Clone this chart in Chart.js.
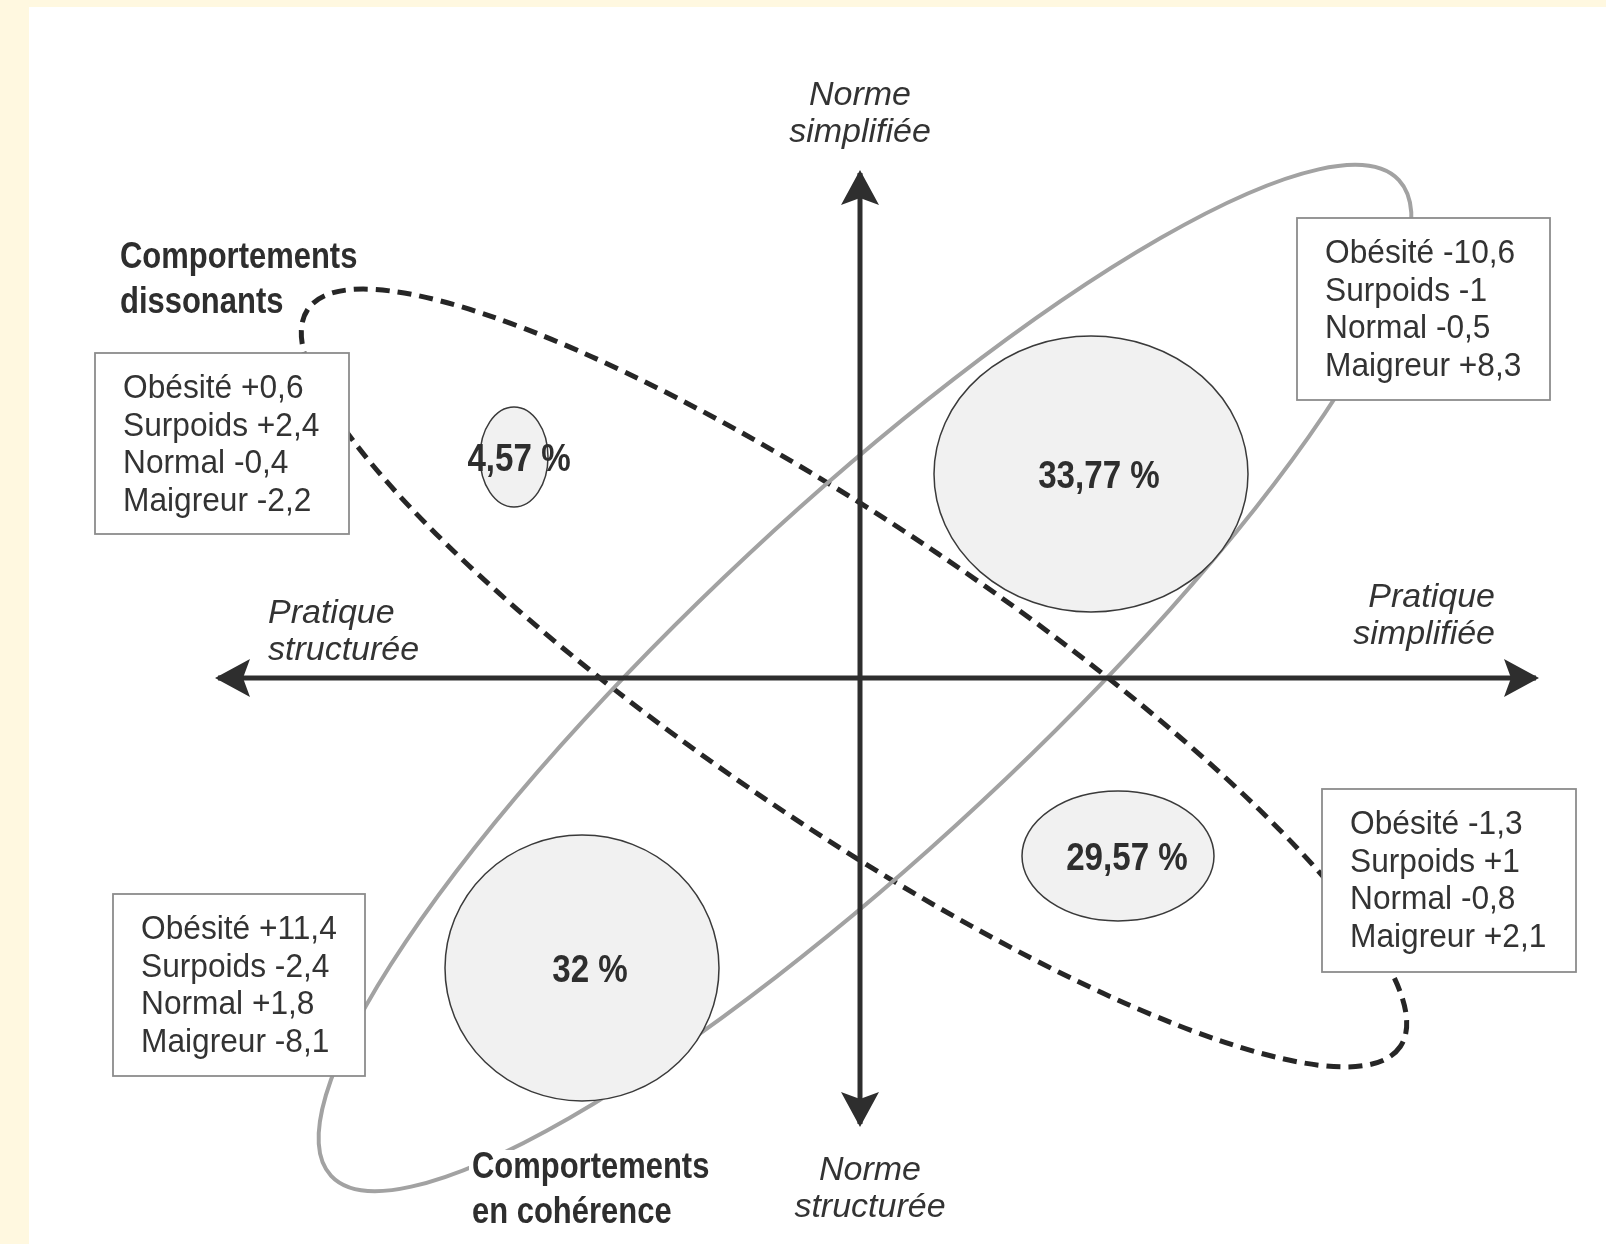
<!DOCTYPE html>
<html lang="fr">
<head>
<meta charset="utf-8">
<title>Norme et pratique alimentaires</title>
<script src="https://cdn.jsdelivr.net/npm/chart.js@4"></script>
<style>
  html, body { margin: 0; padding: 0; background: #fff8e0; }
  body { width: 1606px; height: 1244px; overflow: hidden; position: relative; }
  #cadre { position: absolute; left: 29px; top: 7px; width: 1577px; height: 1237px; background: #fff; }
  canvas { display: block; }
</style>
</head>
<body>
<div id="cadre"><canvas id="schema" width="1577" height="1237"></canvas></div>
<script>
// DONNEES DU SCHEMA
const categoriesIMC = ['Obésité', 'Surpoids', 'Normal', 'Maigreur'];
// ordre des quadrants : haut droite, haut gauche, bas droite, bas gauche
const partsPopulation = [33.77, 4.57, 29.57, 32];
const ecartsHautDroite = [-10.6, -1, -0.5, 8.3];
const ecartsHautGauche = [0.6, 2.4, -0.4, -2.2];
const ecartsBasDroite = [-1.3, 1, -0.8, 2.1];
const ecartsBasGauche = [11.4, -2.4, 1.8, -8.1];
const axeNorme = ['Norme simplifiée', 'Norme structurée'];
const axePratique = ['Pratique simplifiée', 'Pratique structurée'];
const groupes = ['Comportements dissonants', 'Comportements en cohérence'];

// MISE EN PLACE (unités du repère, 0 = croisement des axes)
const repere = { xMin: -8.31, xMax: 7.46, yMin: -5.66, yMax: 6.71 };
const axePratiquePos = [-6.42, 6.76];
const axeNormePos = [-4.46, 5.05];

const bullesPos = [
  { x: 2.31, y: 2.04, rx: 1.57, ry: 1.38, tx: 0.08 },
  { x: -3.46, y: 2.21, rx: 0.34, ry: 0.50, tx: 0.05 },
  { x: 2.58, y: -1.78, rx: 0.96, ry: 0.65, tx: 0.09 },
  { x: -2.78, y: -2.90, rx: 1.37, ry: 1.33, tx: 0.08 }
];
const encadresPos = [
  { x: 4.37, y: 4.60, w: 2.53, h: 1.82 },
  { x: -7.65, y: 3.25, w: 2.54, h: 1.81 },
  { x: 4.62, y: -1.11, w: 2.54, h: 1.83 },
  { x: -7.47, y: -2.16, w: 2.52, h: 1.82 }
];
const ellipsesGroupes = [
  { x: -0.06, y: 0, a: 6.59, b: 1.50, angle: -34, pointille: true },
  { x: 0.05, y: 0, a: 7.30, b: 1.70, angle: 43, pointille: false }
];
const libellesAxesPos = [
  { texte: axeNorme[0], x: 0, y: 5.73, align: 'center' },
  { texte: axeNorme[1], x: 0.10, y: -5.02, align: 'center' },
  { texte: axePratique[0], x: 6.35, y: 0.71, align: 'right' },
  { texte: axePratique[1], x: -5.92, y: 0.55, align: 'left' }
];
const libellesGroupesPos = [
  { texte: groupes[0], x: -7.40, y: 4.10 },
  { texte: groupes[1], x: -3.88, y: -5.00 }
];

const POLICE = '"Liberation Sans", Arial, sans-serif';
const ENCRE = '#2e2e2e';

function formatEcart(v) {
  return (v > 0 ? '+' : '') + String(v).replace('.', ',');
}
function formatPart(v) {
  return String(v).replace('.', ',') + ' %';
}
function deuxLignes(t) {
  const i = t.indexOf(' ');
  return [t.slice(0, i), t.slice(i + 1)];
}

function texte(ctx, str, px, py, font, align, sx) {
  ctx.save();
  ctx.font = font;
  ctx.translate(px, py);
  ctx.scale(sx, 1);
  ctx.textAlign = align;
  ctx.textBaseline = 'alphabetic';
  ctx.fillText(str, 0, 0);
  ctx.restore();
}

function pointe(ctx, tx, ty, dx, dy) {
  const L = 35, W = 19, N = 7;
  const nx = -dy, ny = dx;
  const bx = tx - dx * L, by = ty - dy * L;
  ctx.beginPath();
  ctx.moveTo(tx, ty);
  ctx.lineTo(bx + nx * W, by + ny * W);
  ctx.lineTo(tx - dx * (L - N), ty - dy * (L - N));
  ctx.lineTo(bx - nx * W, by - ny * W);
  ctx.closePath();
  ctx.fill();
}

const schemaPlugin = {
  id: 'schema',
  beforeDatasetsDraw(chart) {
    const ctx = chart.ctx;
    const sx = chart.scales.x, sy = chart.scales.y;
    const k = Math.abs(sx.getPixelForValue(1) - sx.getPixelForValue(0));
    // grandes ellipses des deux groupes de comportements
    ellipsesGroupes.forEach(e => {
      ctx.save();
      ctx.beginPath();
      ctx.ellipse(sx.getPixelForValue(e.x), sy.getPixelForValue(e.y), e.a * k, e.b * k,
        -e.angle * Math.PI / 180, 0, Math.PI * 2);
      if (e.pointille) {
        ctx.setLineDash([14, 8]);
        ctx.lineWidth = 5;
        ctx.strokeStyle = '#262626';
      } else {
        ctx.lineWidth = 4;
        ctx.strokeStyle = '#a2a2a2';
      }
      ctx.stroke();
      ctx.restore();
    });
  },
  afterDatasetsDraw(chart) {
    const ctx = chart.ctx;
    const sx = chart.scales.x, sy = chart.scales.y;
    const k = Math.abs(sx.getPixelForValue(1) - sx.getPixelForValue(0));

    // pointes de flèches au bout des axes
    ctx.fillStyle = ENCRE;
    chart.data.datasets.forEach(ds => {
      const p0 = ds.data[0], p1 = ds.data[1];
      const x0 = sx.getPixelForValue(p0.x), y0 = sy.getPixelForValue(p0.y);
      const x1 = sx.getPixelForValue(p1.x), y1 = sy.getPixelForValue(p1.y);
      const len = Math.hypot(x1 - x0, y1 - y0);
      const dx = (x1 - x0) / len, dy = (y1 - y0) / len;
      pointe(ctx, x1 + dx * 3, y1 + dy * 3, dx, dy);
      pointe(ctx, x0 - dx * 3, y0 - dy * 3, -dx, -dy);
    });

    // bulles des parts de population
    partsPopulation.forEach((v, i) => {
      const b = bullesPos[i];
      const cx = sx.getPixelForValue(b.x), cy = sy.getPixelForValue(b.y);
      ctx.save();
      ctx.beginPath();
      ctx.ellipse(cx, cy, b.rx * k, b.ry * k, 0, 0, Math.PI * 2);
      ctx.fillStyle = '#f1f1f1';
      ctx.fill();
      ctx.lineWidth = 1.5;
      ctx.strokeStyle = '#3a3a3a';
      ctx.stroke();
      ctx.fillStyle = ENCRE;
      texte(ctx, formatPart(v), sx.getPixelForValue(b.x + b.tx), cy + 14,
        'bold 39px ' + POLICE, 'center', 0.85);
      ctx.restore();
    });

    // encadrés des écarts par catégorie d'IMC
    const ecarts = [ecartsHautDroite, ecartsHautGauche, ecartsBasDroite, ecartsBasGauche];
    ecarts.forEach((serie, i) => {
      const e = encadresPos[i];
      const x0 = sx.getPixelForValue(e.x), y0 = sy.getPixelForValue(e.y);
      const w = e.w * k, h = e.h * k;
      ctx.save();
      ctx.fillStyle = '#fff';
      ctx.fillRect(x0, y0, w, h);
      ctx.lineWidth = 1.8;
      ctx.strokeStyle = '#8c8c8c';
      ctx.strokeRect(x0, y0, w, h);
      ctx.fillStyle = '#333';
      serie.forEach((v, j) => {
        texte(ctx, categoriesIMC[j] + ' ' + formatEcart(v), x0 + 0.28 * k, y0 + 0.45 * k + j * 0.375 * k,
          '33px ' + POLICE, 'left', 0.96);
      });
      ctx.restore();
    });

    // libellés des axes
    ctx.fillStyle = '#333';
    libellesAxesPos.forEach(l => {
      const lignes = deuxLignes(l.texte);
      lignes.forEach((t, j) => {
        texte(ctx, t, sx.getPixelForValue(l.x), sy.getPixelForValue(l.y) + j * 37,
          'italic 34px ' + POLICE, l.align, 1);
      });
    });

    // libellés des groupes
    libellesGroupesPos.forEach(l => {
      const lignes = deuxLignes(l.texte);
      const px = sx.getPixelForValue(l.x), py = sy.getPixelForValue(l.y);
      ctx.save();
      ctx.font = 'bold 36px ' + POLICE;
      lignes.forEach((t, j) => {
        const w = ctx.measureText(t).width * 0.86;
        ctx.fillStyle = '#fff';
        ctx.fillRect(px - 3, py + j * 45 - 28, w + 6, 36);
      });
      ctx.restore();
      ctx.fillStyle = ENCRE;
      lignes.forEach((t, j) => {
        texte(ctx, t, px, py + j * 45, 'bold 36px ' + POLICE, 'left', 0.86);
      });
    });
  }
};

const ctx = document.getElementById('schema');
new Chart(ctx, {
  type: 'scatter',
  data: {
    datasets: [
      {
        label: 'Pratique',
        data: [{ x: axePratiquePos[0], y: 0 }, { x: axePratiquePos[1], y: 0 }],
        showLine: true,
        borderColor: ENCRE,
        borderWidth: 5,
        pointRadius: 0
      },
      {
        label: 'Norme',
        data: [{ x: 0, y: axeNormePos[0] }, { x: 0, y: axeNormePos[1] }],
        showLine: true,
        borderColor: ENCRE,
        borderWidth: 5,
        pointRadius: 0
      }
    ]
  },
  options: {
    responsive: false,
    animation: false,
    events: [],
    layout: { padding: 0 },
    scales: {
      x: { type: 'linear', min: repere.xMin, max: repere.xMax, display: false },
      y: { type: 'linear', min: repere.yMin, max: repere.yMax, display: false }
    },
    plugins: {
      legend: { display: false },
      tooltip: { enabled: false }
    }
  },
  plugins: [schemaPlugin]
});
</script>
</body>
</html>
